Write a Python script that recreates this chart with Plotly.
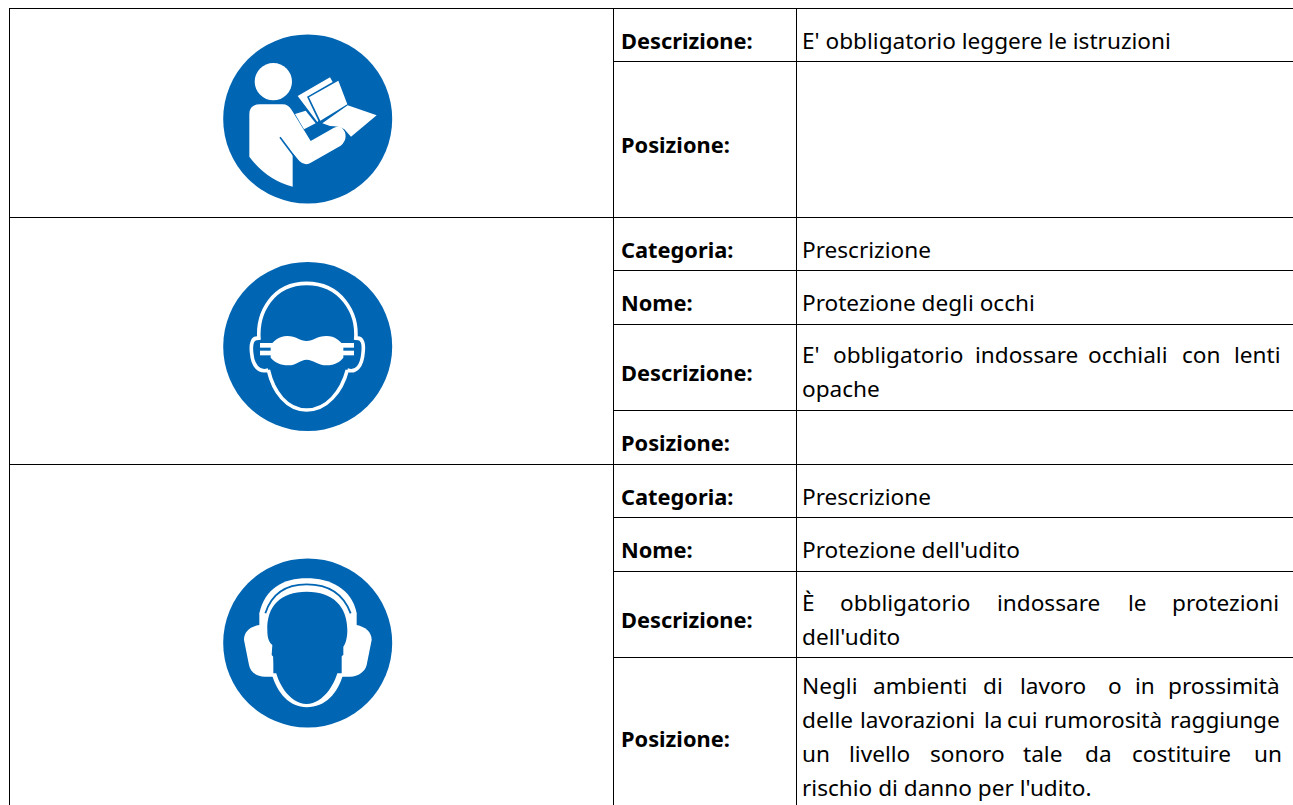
import re
import plotly.graph_objects as go

W, H = 1293, 805
BLUE = "#0065B3"
FONT = "Noto Sans"
SIZE_B = 21.8
SIZE_R = 22.6

# table grid
row_lines = [8, 61, 217, 270, 324, 410, 464, 517, 571, 657]
main_rows = [8, 217, 464]
col_lines = [9, 613, 796]

# left labels
label_names = ["Descrizione:", "Posizione:", "Categoria:", "Nome:", "Descrizione:",
               "Posizione:", "Categoria:", "Nome:", "Descrizione:", "Posizione:"]
label_y = [40, 144, 249, 302, 372, 442, 496, 549, 619, 738]

# value text: (line y, words, word x)
value_y = [40, 249, 302, 354, 388, 496, 549, 602, 636, 685, 719, 753, 787]
value_words = [
    ["E' obbligatorio leggere le istruzioni"],
    ["Prescrizione"],
    ["Protezione degli occhi"],
    ["E'", "obbligatorio", "indossare", "occhiali", "con", "lenti"],
    ["opache"],
    ["Prescrizione"],
    ["Protezione dell'udito"],
    ["È", "obbligatorio", "indossare", "le", "protezioni"],
    ["dell'udito"],
    ["Negli", "ambienti", "di", "lavoro", "o", "in", "prossimità"],
    ["delle", "lavorazioni", "la", "cui", "rumorosità", "raggiunge"],
    ["un", "livello", "sonoro", "tale", "da", "costituire", "un"],
    ["rischio di danno per l'udito."],
]
value_x = [
    [799.5], [799.5], [799.5],
    [799.5, 830.5, 972.5, 1085.5, 1179.5, 1232],
    [799.5], [799.5], [799.5],
    [799.5, 837.5, 994.5, 1125.5, 1169.5],
    [799.5],
    [799.5, 870.5, 980.5, 1017.5, 1105.5, 1132.5, 1165.5],
    [799.5, 857.5, 981.5, 1004.5, 1041.5, 1167.5],
    [799.5, 846.5, 927.5, 1020.5, 1082.5, 1129.5, 1251.5],
    [799.5],
]

# icons
icon_cx = 307.7
icon_cy = [119, 346.5, 643]
icon_r = 84.5


def tr(path, ox, oy):
    """Path written in 3x crop units -> page units."""
    return re.sub(r"(-?[\d.]+),(-?[\d.]+)",
                  lambda m: f"{ox + float(m[1]) / 3:.2f},{oy + float(m[2]) / 3:.2f}", path)


def fill(path, ox, oy, color="white"):
    return dict(type="path", path=tr(path, ox, oy), fillcolor=color, line=dict(width=0), layer="above")


def stroke(path, ox, oy, width, color="white"):
    return dict(type="path", path=tr(path, ox, oy), line=dict(color=color, width=width), layer="above")


shapes = []
for y in row_lines:
    shapes.append(dict(type="line", x0=col_lines[0] if y in main_rows else col_lines[1],
                       x1=W, y0=y + 0.5, y1=y + 0.5, line=dict(color="black", width=1)))
for x in col_lines:
    shapes.append(dict(type="line", x0=x + 0.5, x1=x + 0.5, y0=row_lines[0], y1=H, line=dict(color="black", width=1)))

for cy in icon_cy:
    shapes.append(dict(type="circle", x0=icon_cx - icon_r, x1=icon_cx + icon_r,
                       y0=cy - icon_r, y1=cy + icon_r, fillcolor=BLUE, line=dict(width=0)))

# icon 1: reader
ox, oy = 210, 25
shapes.append(dict(type="circle", x0=ox + 134 / 3, x1=ox + 246 / 3, y0=oy + 114 / 3, y1=oy + 226 / 3,
                   fillcolor="white", line=dict(width=0), layer="above"))
shapes.append(fill("M118,395 L118,268 Q118,238 150,238 L218,238 Q235,238 245,255 L302,348 L372,308 "
                   "Q395,298 405,322 Q412,345 392,362 L305,412 Q285,425 268,408 L248,385 L248,485 "
                   "Q170,465 118,395 Z", ox, oy))
shapes.append(stroke("M210,337 L266,412", ox, oy, 1.6, BLUE))
ox, oy = 285, 70
shapes.append(fill("M38,78 L135,22 L143,36 L66,80 L100,152 L97,156 Z", ox, oy))
shapes.append(fill("M72,82 L160,32 L187,103 L106,152 Z", ox, oy))
shapes.append(fill("M188,106 L275,136 L198,200 L178,178 Q160,168 135,168 L112,160 Z", ox, oy))
shapes.append(fill("M30,132 L62,122 L92,160 L57,178 Z", ox, oy))

# icon 2: goggles
ox, oy = 210, 255
for p in ["M147,255 C140,170 190,85 290,85 C390,85 445,170 437,255",
          "M175,345 C190,410 230,465 290,465 C350,465 395,410 412,345",
          "M147,250 C125,245 122,270 125,295 C128,330 145,355 175,345",
          "M437,250 C460,245 462,270 459,295 C456,330 440,355 412,345"]:
    shapes.append(stroke(p, ox, oy, 3.6))
shapes.append(fill("M290,258 C270,258 258,243 232,243 C205,243 190,260 182,270 L182,308 C195,322 210,331 235,331 "
                   "C262,331 270,314 290,314 C310,314 322,331 350,331 C375,331 390,320 400,308 L400,270 "
                   "C390,258 375,243 350,243 C320,243 310,258 290,258 Z", ox, oy))
for p in ["M150,264 L190,264 L190,278 L150,278 Z", "M150,287 L190,287 L190,301 L150,301 Z",
          "M393,264 L432,264 L432,278 L393,278 Z", "M393,287 L432,287 L432,301 L393,301 Z"]:
    shapes.append(fill(p, ox, oy))

# icon 3: ear defenders
ox, oy = 210, 550
shapes.append(fill("M148,240 L148,190 C165,115 220,85 290,85 C360,85 425,115 440,190 L440,240 Z", ox, oy))
shapes.append(fill("M148,225 C120,230 102,245 102,270 L117,345 C120,365 140,380 165,380 L190,380 L190,225 Z", ox, oy))
shapes.append(fill("M440,225 C465,230 485,245 485,270 L470,345 C465,365 445,380 420,380 L395,380 L395,225 Z", ox, oy))
shapes.append(fill("M185,370 C200,430 240,472 290,472 C345,472 385,430 400,370 Z", ox, oy))
shapes.append(stroke("M166,190 C185,130 225,103 290,103 C355,103 400,130 422,190", ox, oy, 1.8, BLUE))
shapes.append(fill("M172,240 C170,170 210,125 290,125 C370,125 412,170 412,240 C412,260 408,280 400,290 L400,315 "
                   "L392,320 C385,400 340,460 290,462 C240,460 195,400 190,320 L185,315 L187,285 "
                   "C175,275 172,260 172,240 Z", ox, oy, BLUE))

annotations = []
for t, y in zip(label_names, label_y):
    annotations.append(dict(x=618.5, y=y, text=f"<b>{t}</b>", xref="x", yref="y", showarrow=False,
                            xanchor="left", yanchor="middle", font=dict(family=FONT, size=SIZE_B, color="black")))
for y, words, xs in zip(value_y, value_words, value_x):
    for t, x in zip(words, xs):
        annotations.append(dict(x=x, y=y, text=t, xref="x", yref="y", showarrow=False,
                                xanchor="left", yanchor="middle", font=dict(family=FONT, size=SIZE_R, color="black")))

fig = go.Figure()
fig.update_layout(
    width=W, height=H, margin=dict(l=0, r=0, t=0, b=0),
    paper_bgcolor="white", plot_bgcolor="white", showlegend=False,
    xaxis=dict(range=[0, W], visible=False, fixedrange=True),
    yaxis=dict(range=[H, 0], visible=False, fixedrange=True),
    shapes=shapes, annotations=annotations,
)
fig.write_html("out.html", post_script="document.body.style.margin='0';document.body.style.overflow='hidden';",
               config=dict(displayModeBar=False))
